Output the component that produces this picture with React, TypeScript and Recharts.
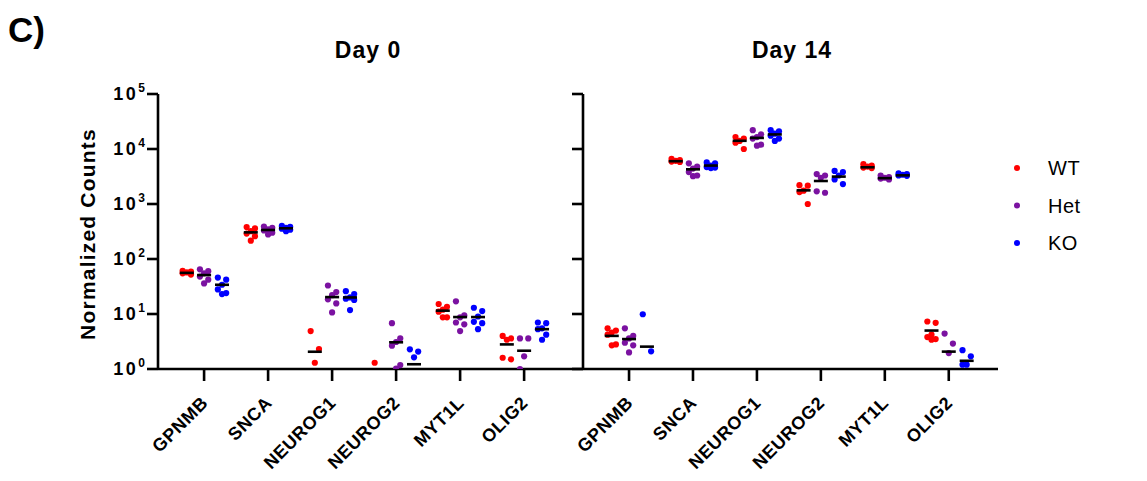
import React from 'react';
import { ScatterChart, Scatter, XAxis, YAxis } from 'recharts';

const genes = ['GPNMB', 'SNCA', 'NEUROG1', 'NEUROG2', 'MYT1L', 'OLIG2'];
const groups = ['WT', 'Het', 'KO'];
const groupColors = ['#FF0000', '#7B12A1', '#0000FF'];
const yTicks = [1, 10, 100, 1000, 10000, 100000];

// Day 0 raw values per gene
const day0WT = [
  [61, 59, 57, 55, 52],
  [380, 360, 320, 290, 260, 215],
  [4.9, 2.3, 1.3],
  [1.3],
  [15.2, 13.5, 12, 11, 8.7, 8.7],
  [4.0, 3.6, 3.4, 1.6, 1.5],
];
const day0Het = [
  [65, 60, 55, 48, 42, 36],
  [390, 370, 345, 330, 300, 280],
  [33, 25, 22, 18.5, 15.6, 10.7],
  [6.8, 3.6, 3.1, 2.65, 1.18, 1.02],
  [17, 9.5, 8.7, 7, 6.5, 4.9],
  [3.6, 3.6, 1.7, 1.0],
];
const day0KO = [
  [46, 42, 34, 28, 24, 23],
  [400, 385, 370, 355, 340, 320],
  [26, 23, 20, 19, 18, 11.8],
  [2.28, 2.07, 1.63],
  [13, 11.3, 9, 7.2, 6.8, 5.3],
  [7.0, 6.8, 5.5, 5.3, 4.2, 3.4],
];
const day0MedWT = [56, 305, 2.06, null, 11.5, 2.8];
const day0MedHet = [51, 337, 20.3, 3.06, 8.8, 2.15];
const day0MedKO = [34, 362, 20, 1.22, 8.8, 5.3];

// Day 14 raw values per gene
const day14WT = [
  [5.5, 5.0, 4.6, 4.2, 2.8, 2.7],
  [6600, 6300, 6100, 5900, 5800],
  [16500, 15500, 14000, 13000, 10000],
  [2200, 2150, 1750, 1650, 1000],
  [5300, 5000, 4800, 4600, 4500],
  [7.3, 6.9, 4.2, 3.8, 3.5, 3.4],
];
const day14Het = [
  [5.5, 4.0, 3.6, 3.0, 2.7, 2.0],
  [5500, 4800, 4400, 3800, 3300, 3200],
  [22000, 18500, 16500, 15500, 12000, 11500],
  [3500, 3300, 3000, 1700, 1600],
  [3300, 3100, 3000, 2900, 2800],
  [4.4, 2.9, 1.95],
];
const day14KO = [
  [9.9, 2.1],
  [5700, 5500, 5000, 4700, 4600, 4500],
  [22000, 21000, 19000, 17500, 15500, 14000],
  [4000, 3800, 3300, 2800, 2300],
  [3600, 3500, 3400, 3300, 3250],
  [2.2, 1.7, 1.2, 1.2],
];
const day14MedWT = [4.0, 6000, 14100, 1770, 4650, 5.0];
const day14MedHet = [3.5, 4270, 15900, 2620, 2950, 2.07];
const day14MedKO = [2.55, 5000, 18400, 3150, 3320, 1.41];

// layout helpers (not data)
const groupOffset = [-0.27, 0, 0.28];
const jitter = [-0.065, 0.065, 0, -0.065, 0.065, 0];
const FONT = '"Liberation Sans", Arial, Helvetica, sans-serif';

const toPoints = (vals: number[][], g: number) =>
  vals.flatMap((arr, i) => arr.map((v, j) => ({ x: i + groupOffset[g] + jitter[j % jitter.length], y: v })));
const toMedians = (meds: (number | null)[], g: number) =>
  meds.flatMap((m, i) => (m == null ? [] : [{ x: i + groupOffset[g], y: m }]));

const YTick = (props: any) => {
  const { x, y, payload, show } = props;
  if (!show) return <g />;
  const exp = Math.round(Math.log10(payload.value));
  return (
    <text x={x} y={y + 6} textAnchor="end" fontFamily={FONT} fontWeight="bold" fill="#000">
      <tspan fontSize={18} letterSpacing={2.5}>10</tspan>
      <tspan fontSize={12} dy={-8}>{exp}</tspan>
    </text>
  );
};

const XTick = (props: any) => {
  const { x, y, payload } = props;
  return (
    <g transform={`translate(${x + 5},${y + 21})`}>
      <text
        textAnchor="end"
        transform="rotate(-45)"
        fontFamily={FONT}
        fontWeight="bold"
        fontSize={18}
        letterSpacing={0.6}
        fill="#000"
      >
        {genes[payload.value]}
      </text>
    </g>
  );
};

const Dot = (color: string) => (p: any) => <circle cx={p.cx} cy={p.cy} r={3.1} fill={color} />;
const MedianLine = (p: any) => (
  <line x1={p.cx - 7} x2={p.cx + 7} y1={p.cy} y2={p.cy} stroke="#000" strokeWidth={2.6} />
);

type PanelProps = {
  wt: number[][];
  het: number[][];
  ko: number[][];
  medWT: (number | null)[];
  medHet: (number | null)[];
  medKO: (number | null)[];
  axisLeft: number;
  plotRight: number;
  domain: [number, number];
  showYLabels: boolean;
};

const W = 1147;
const H = 481;
const PLOT_TOP = 94;
const PLOT_BOTTOM = 369;

const Panel = ({ wt, het, ko, medWT, medHet, medKO, axisLeft, plotRight, domain, showYLabels }: PanelProps) => {
  const series = [wt, het, ko];
  const meds = [medWT, medHet, medKO];
  return (
    <div style={{ position: 'absolute', left: 0, top: 0 }}>
      <ScatterChart
        width={W}
        height={H}
        margin={{ top: PLOT_TOP, right: W - plotRight, bottom: 0, left: 0 }}
      >
        <XAxis
          type="number"
          dataKey="x"
          domain={domain}
          ticks={[0, 1, 2, 3, 4, 5]}
          allowDataOverflow
          height={H - PLOT_BOTTOM}
          tickSize={12}
          axisLine={{ stroke: '#000', strokeWidth: 2.6 }}
          tickLine={{ stroke: '#000', strokeWidth: 2.6 }}
          tick={<XTick />}
          interval={0}
        />
        <YAxis
          type="number"
          dataKey="y"
          scale="log"
          domain={[1, 100000]}
          ticks={yTicks}
          allowDataOverflow
          width={axisLeft}
          tickSize={11}
          axisLine={{ stroke: '#000', strokeWidth: 2.6 }}
          tickLine={{ stroke: '#000', strokeWidth: 2.6 }}
          tick={<YTick show={showYLabels} />}
          interval={0}
        />
        {series.map((vals, g) => (
          <Scatter
            key={groups[g]}
            name={groups[g]}
            data={toPoints(vals, g)}
            shape={Dot(groupColors[g])}
            isAnimationActive={false}
          />
        ))}
        {meds.map((m, g) => (
          <Scatter
            key={'med' + groups[g]}
            data={toMedians(m, g)}
            shape={MedianLine}
            isAnimationActive={false}
          />
        ))}
      </ScatterChart>
    </div>
  );
};

export default function App() {
  return (
    <div style={{ position: 'absolute', left: 0, top: 0, width: W, height: H, background: '#fff' }}>
      <Panel
        wt={day0WT}
        het={day0Het}
        ko={day0KO}
        medWT={day0MedWT}
        medHet={day0MedHet}
        medKO={day0MedKO}
        axisLeft={158}
        plotRight={583}
        domain={[-0.72, 5.92]}
        showYLabels
      />
      <Panel
        wt={day14WT}
        het={day14Het}
        ko={day14KO}
        medWT={day14MedWT}
        medHet={day14MedHet}
        medKO={day14MedKO}
        axisLeft={583}
        plotRight={998}
        domain={[-0.72, 5.77]}
        showYLabels={false}
      />
      <svg width={W} height={H} style={{ position: 'absolute', left: 0, top: 0, pointerEvents: 'none' }}>
        <text x={8} y={42} fontFamily={FONT} fontWeight="bold" fontSize={35} fill="#000">C)</text>
        <text x={368} y={58} textAnchor="middle" fontFamily={FONT} fontWeight="bold" fontSize={23} letterSpacing={1} fill="#000">Day 0</text>
        <text x={792} y={58} textAnchor="middle" fontFamily={FONT} fontWeight="bold" fontSize={23} letterSpacing={1} fill="#000">Day 14</text>
        <text
          transform="translate(95,234) rotate(-90)"
          textAnchor="middle"
          fontFamily={FONT}
          fontWeight="bold"
          fontSize={21}
          letterSpacing={1.2}
          fill="#000"
        >
          Normalized Counts
        </text>
        {groups.map((g, i) => (
          <g key={g}>
            <circle cx={1017} cy={168 + i * 37.5} r={3} fill={groupColors[i]} />
            <text x={1048} y={175 + i * 37.5} fontFamily={FONT} fontSize={20} letterSpacing={0.5} fill="#000">{g}</text>
          </g>
        ))}
      </svg>
    </div>
  );
}
